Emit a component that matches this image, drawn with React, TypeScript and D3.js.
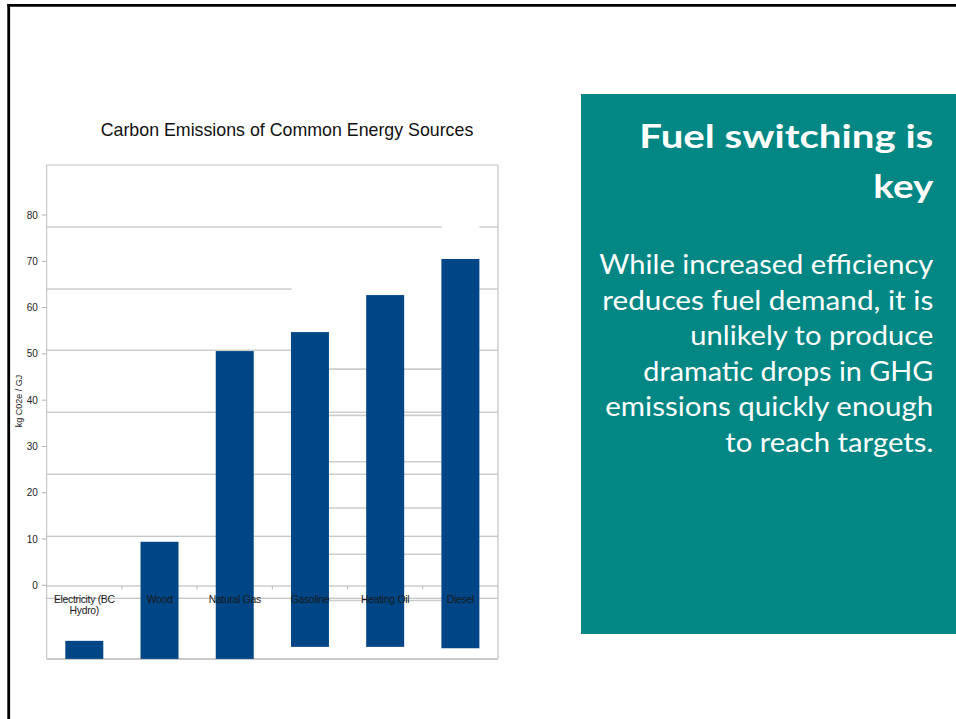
import React from "react";
import * as d3 from "d3";

// ---- data ----
const categories = ["Electricity (BC Hydro)", "Wood", "Natural Gas", "Gasoline", "Heating Oil", "Diesel"];
const categoryLabelLines = [["Electricity (BC", "Hydro)"], ["Wood"], ["Natural Gas"], ["Gasoline"], ["Heating Oil"], ["Diesel"]];
const barTopValues = [-12.0, 9.4, 50.6, 54.7, 62.7, 70.5];
const barBaseValues = [-15.9, -15.9, -15.9, -13.3, -13.3, -13.6];
const yTicks = [0, 10, 20, 30, 40, 50, 60, 70, 80];
const fullGridValues = [77.4, 64.0, 50.8, 37.4, 24.0, 10.6, -2.8];
const partialGridValues = [46.7, 36.7, 26.7, 16.7, 6.7, -3.3];
// white patches hiding grid lines: [firstCategory, lastCategory, lowValue, highValue]
const whiteouts: [number, number, number, number][] = [
  [3, 5, 47.6, 66.6],
  [5, 5, 70.5, 79.5],
];
const chartTitle = "Carbon Emissions of Common Energy Sources";
const yAxisTitle = "kg C02e / GJ";
const panelTitleLines = ["Fuel switching is", "key"];
const panelBodyLines = [
  "While increased efficiency",
  "reduces fuel demand, it is",
  "unlikely to produce",
  "dramatic drops in GHG",
  "emissions quickly enough",
  "to reach targets.",
];

export default function App() {
  const W = 956, H = 719;
  const plotLeft = 46.7, plotRight = 498, plotTop = 165, plotBottom = 659;

  const x = d3
    .scaleBand<string>()
    .domain(categories)
    .range([plotLeft, plotRight])
    .paddingInner(0.495)
    .paddingOuter(0.2475);
  const y = d3.scaleLinear().domain([0, 80]).range([585.3, 215]);
  const bw = x.bandwidth();
  const step = x.step();

  const font = "'Liberation Sans', Arial, sans-serif";
  const panelFont = "Lato, 'Open Sans', sans-serif";

  const titleWidths = [294, 60];
  const bodyWidths = [334, 331, 243, 290, 328, 208];
  const panelRight = 933.3;

  return (
    <svg width={W} height={H} style={{ position: "absolute", left: 0, top: 0, background: "#fff" }}>
      <rect x={0} y={0} width={W} height={H} fill="#ffffff" />
      {/* slide border */}
      <line x1={7.4} x2={W} y1={5.3} y2={5.3} stroke="#000" strokeWidth={2.8} />
      <line x1={8.7} x2={8.7} y1={4} y2={H} stroke="#000" strokeWidth={2.8} />

      {/* chart title */}
      <text x={287} y={136} textAnchor="middle" fontFamily={font} fontSize={17.8} fill="#111">
        {chartTitle}
      </text>

      {/* full-width grid lines */}
      {fullGridValues.map((v, i) => (
        <line key={"g" + i} x1={plotLeft} x2={plotRight} y1={y(v)} y2={y(v)} stroke="#b4b4b4" strokeWidth={1} />
      ))}
      {/* white patches */}
      {whiteouts.map(([a, b, lo, hi], i) => (
        <rect
          key={"w" + i}
          x={x(categories[a])! + 0.5}
          width={x(categories[b])! + bw - x(categories[a])! - 0.5}
          y={y(hi)}
          height={y(lo) - y(hi)}
          fill="#ffffff"
        />
      ))}
      {/* partial grid lines between last columns */}
      {partialGridValues.map((v, i) => (
        <line
          key={"p" + i}
          x1={x(categories[3])! + bw}
          x2={x(categories[5])!}
          y1={y(v)}
          y2={y(v)}
          stroke="#cdcdcd"
          strokeWidth={1.6}
        />
      ))}

      {/* plot frame */}
      <line x1={plotLeft} x2={plotRight} y1={plotTop} y2={plotTop} stroke="#c4c4c4" strokeWidth={1} />
      <line x1={plotRight} x2={plotRight} y1={plotTop} y2={plotBottom} stroke="#c4c4c4" strokeWidth={1.2} />
      <line x1={plotLeft} x2={plotRight} y1={plotBottom} y2={plotBottom} stroke="#cacaca" strokeWidth={1.8} />
      <line x1={plotLeft} x2={plotLeft} y1={plotTop} y2={plotBottom} stroke="#bdbdbd" strokeWidth={1} />

      {/* zero axis line and category ticks */}
      <line x1={plotLeft} x2={plotRight} y1={y(0) + 0.7} y2={y(0) + 0.7} stroke="#b4b4b4" strokeWidth={1} />
      {d3.range(1, categories.length).map((i) => (
        <line
          key={"ct" + i}
          x1={plotLeft + step * i}
          x2={plotLeft + step * i}
          y1={y(0) + 0.7}
          y2={y(0) + 4}
          stroke="#b4b4b4"
          strokeWidth={1}
        />
      ))}

      {/* bars */}
      {categories.map((c, i) => (
        <rect
          key={c}
          x={x(c)!}
          width={bw}
          y={y(barTopValues[i])}
          height={y(barBaseValues[i]) - y(barTopValues[i])}
          fill="#004586"
        />
      ))}

      {/* y ticks */}
      {yTicks.map((t) => (
        <g key={"yt" + t}>
          <line x1={plotLeft - 5} x2={plotLeft} y1={y(t)} y2={y(t)} stroke="#b4b4b4" strokeWidth={1} />
          <text x={37.8} y={y(t) + 3.6} textAnchor="end" fontFamily={font} fontSize={10} fill="#222">
            {t}
          </text>
        </g>
      ))}
      <text
        transform={`translate(22, 401) rotate(-90)`}
        textAnchor="middle"
        fontFamily={font}
        fontSize={9}
        fill="#222"
      >
        {yAxisTitle}
      </text>

      {/* category labels */}
      {categories.map((c, i) => (
        <text key={"cl" + c} textAnchor="middle" fontFamily={font} fontSize={10.4} fill="#1a1a1a" letterSpacing={-0.3}>
          {categoryLabelLines[i].map((ln, j) => (
            <tspan key={j} x={x(c)! + bw / 2} y={603 + j * 11}>
              {ln}
            </tspan>
          ))}
        </text>
      ))}

      {/* right panel */}
      <rect x={581} y={94} width={W - 581} height={634 - 94} fill="#028784" />
      {panelTitleLines.map((ln, i) => (
        <text
          key={"pt" + i}
          x={panelRight}
          y={148.3 + i * 50}
          textAnchor="end"
          fontFamily={panelFont}
          fontWeight={700}
          fontSize={32}
          fill="#ffffff"
          textLength={titleWidths[i]}
          lengthAdjust="spacingAndGlyphs"
        >
          {ln}
        </text>
      ))}
      {panelBodyLines.map((ln, i) => (
        <text
          key={"pb" + i}
          x={panelRight}
          y={274.3 + i * 35.5}
          textAnchor="end"
          fontFamily={panelFont}
          fontSize={27}
          fill="#ffffff"
          textLength={bodyWidths[i]}
          lengthAdjust="spacingAndGlyphs"
        >
          {ln}
        </text>
      ))}
    </svg>
  );
}
